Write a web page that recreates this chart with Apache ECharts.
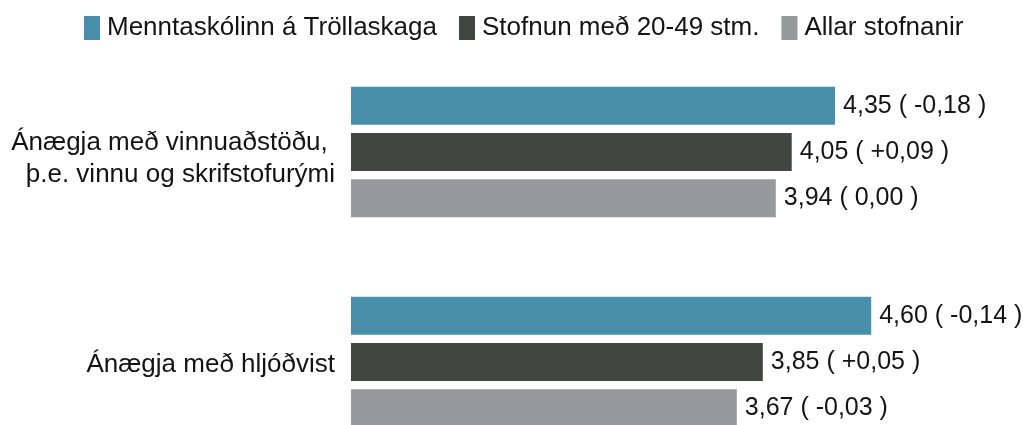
<!DOCTYPE html>
<html>
<head>
<meta charset="utf-8">
<script src="https://cdn.jsdelivr.net/npm/echarts@6/dist/echarts.min.js"></script>
<style>
  html, body { margin: 0; padding: 0; background: #fff; }
  #chart { width: 1023px; height: 425px; }
</style>
</head>
<body>
<div id="chart"></div>
<script>
    // data
    var categories = ['Ánægja með vinnuaðstöðu, \nþ.e. vinnu og skrifstofurými', 'Ánægja með hljóðvist'];
    var seriesNames = ['Menntaskólinn á Tröllaskaga', 'Stofnun með 20-49 stm.', 'Allar stofnanir'];
    var schoolValues = [4.35, 4.60];
    var schoolDiffs = [-0.18, -0.14];
    var sizeValues = [4.05, 3.85];
    var sizeDiffs = [0.09, 0.05];
    var allValues = [3.94, 3.67];
    var allDiffs = [0.00, -0.03];

    var colors = ['#4a8fa9', '#414643', '#959b9c'];

    function fmt(v) {
        return v.toFixed(2).replace('.', ',');
    }
    function fmtDiff(d) {
        if (d === 0) return fmt(0);
        return (d > 0 ? '+' : '-') + fmt(Math.abs(d));
    }

    function makeSeries(name, values, diffs) {
        return {
            name: name,
            type: 'bar',
            data: values,
            barWidth: 38,
            barGap: '22%',
            label: {
                show: true,
                position: 'right',
                distance: 8,
                padding: [5, 0, 0, 0],
                fontFamily: 'Liberation Sans',
                fontSize: 25,
                color: '#141414',
                formatter: function (p) {
                    return fmt(values[p.dataIndex]) + ' ( ' + fmtDiff(diffs[p.dataIndex]) + ' )';
                }
            }
        };
    }

    var myChart = echarts.init(document.getElementById('chart'));
    var option = {
        animation: false,
        color: colors,
        legend: {
            data: seriesNames,
            top: 10,
            left: 79,
            itemWidth: 16,
            itemHeight: 24,
            itemGap: 22,
            icon: 'rect',
            textStyle: {
                fontFamily: 'Liberation Sans',
                fontSize: 26,
                color: '#141414',
                padding: [3, 0, 0, 2]
            }
        },
        grid: {
            left: 351,
            top: 47,
            width: 578,
            height: 420,
            outerBoundsMode: 'none'
        },
        xAxis: {
            type: 'value',
            min: 1,
            max: 5,
            show: false
        },
        yAxis: {
            type: 'category',
            inverse: true,
            data: categories,
            axisLine: {show: false},
            axisTick: {show: false},
            axisLabel: {
                margin: 16,
                fontFamily: 'Liberation Sans',
                fontSize: 26,
                lineHeight: 32,
                color: '#141414',
                align: 'right',
                // a thin empty first line pushes the text a little lower, as in the original
                formatter: function (value, idx) {
                    var lines = value.split('\n').map(function (l) {
                        return '{t|' + l + '}';
                    });
                    return '{s' + idx + '| }\n' + lines.join('\n');
                },
                rich: {
                    s0: {fontSize: 1, lineHeight: 14},
                    s1: {fontSize: 1, lineHeight: 6},
                    t: {
                        fontFamily: 'Liberation Sans',
                        fontSize: 26,
                        lineHeight: 32,
                        color: '#141414',
                        align: 'right'
                    }
                }
            }
        },
        series: [
            makeSeries(seriesNames[0], schoolValues, schoolDiffs),
            makeSeries(seriesNames[1], sizeValues, sizeDiffs),
            makeSeries(seriesNames[2], allValues, allDiffs)
        ]
    };
    myChart.setOption(option);
</script>
</body>
</html>
